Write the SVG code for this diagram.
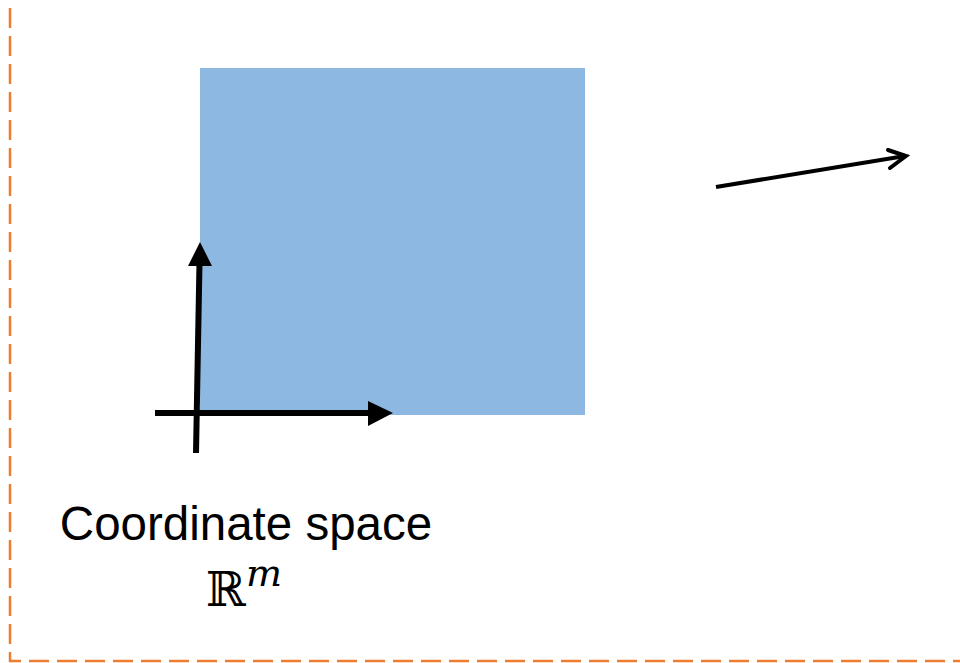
<svg xmlns="http://www.w3.org/2000/svg" width="960" height="663" viewBox="0 0 960 663">
<style>
.frame{fill:none;stroke:#ED7D31;stroke-width:2.5;stroke-dasharray:20 8}
.axis{stroke:#000;stroke-width:6;fill:none}
.lbl{font-family:"Liberation Sans",Arial,sans-serif;font-size:47.5px;fill:#000}
.math{font-family:"DejaVu Serif","Liberation Serif",serif;fill:#000}
</style>
<rect width="960" height="663" fill="#fff"/>
<path class="frame" d="M10,8 V661 H960"/>
<g id="space">
<rect x="200" y="68" width="385" height="347" fill="#8DB8E1"/>
</g>
<g id="connectors">
<line class="axis" x1="196" y1="453" x2="199.5" y2="262"/>
<polygon points="200,242 212,266 188,266" fill="#000"/>
<line class="axis" x1="155" y1="413" x2="372" y2="413"/>
<polygon points="393,413 368,401 368,426" fill="#000"/>
<line x1="716" y1="187" x2="905" y2="156" stroke="#000" stroke-width="4"/>
<polyline points="888,150 906,156 890,168" fill="none" stroke="#000" stroke-width="4" stroke-linecap="round" stroke-linejoin="miter"/>
</g>
<g id="label">
<text class="lbl" x="246" y="540" text-anchor="middle">Coordinate space</text>
<text class="math" x="206" y="606" font-size="48">ℝ<tspan font-style="italic" font-size="38" dy="-20">m</tspan></text>
</g>
</svg>
